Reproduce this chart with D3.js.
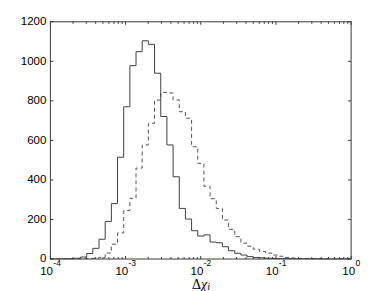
<!DOCTYPE html>
<html><head><meta charset="utf-8">
<script src="https://cdn.jsdelivr.net/npm/d3@7"></script>
<style>
html,body{margin:0;padding:0;background:#fff;}
svg{display:block;font-family:"Liberation Sans",Arial,Helvetica,sans-serif;}
</style></head>
<body>
<script>
// Bin lower edges (log10 of Δχ_i), plus the final upper edge
const binLog10Edges = [-4.009,-3.927,-3.845,-3.763,-3.681,-3.599,-3.517,-3.435,-3.353,-3.271,
  -3.189,-3.107,-3.025,-2.943,-2.861,-2.779,-2.697,-2.615,-2.532,-2.450,
  -2.368,-2.286,-2.204,-2.122,-2.040,-1.958,-1.876,-1.794,-1.712,-1.630,
  -1.548,-1.466,-1.384,-1.302,-1.220,-1.138,-1.056,-0.974,-0.892,-0.810,
  -0.728,-0.646,-0.564,-0.482,-0.400,-0.318,-0.236,-0.154,-0.072,0.010];
// Counts per bin (solid series)
const solidCounts = [0,0,1,2,4,10,28,54,100,190,280,515,770,978,1049,1104,1086,940,721,577,
  416,256,202,143,116,122,86,82,62,42,29,20,12,8,6,4,3,2,2,1,1,1,0,1,0,0,0,0,0];
// Counts per bin (dashed series)
const dashedCounts = [0,0,0,0,0,1,2,4,8,30,75,132,245,307,460,577,686,804,843,840,
  805,745,712,568,484,368,305,256,197,150,113,80,65,50,38,30,20,14,8,5,3,2,1,1,1,0,0,0,0];
const yTicks = [0,200,400,600,800,1000,1200];
const xTickExponents = [-4,-3,-2,-1,0];
const xDomain = [1e-4, 1];
const yDomain = [0, 1200];

const W = 388, H = 291;
const m = {left: 50.4, right: 388 - 351.1, top: 21.8, bottom: 291 - 259};
const svg = d3.select("body").append("svg").attr("width", W).attr("height", H);

const x = d3.scaleLog().domain(xDomain).range([m.left, W - m.right]);
const y = d3.scaleLinear().domain(yDomain).range([H - m.bottom, m.top]);

svg.append("defs").append("clipPath").attr("id","clip")
  .append("rect").attr("x", m.left).attr("y", m.top - 1)
  .attr("width", x.range()[1] - m.left).attr("height", y(0) - m.top + 1.5);

const axisColor = "#3a3a3a";
const g = svg.append("g");

// histogram outlines
function pts(counts){
  const p = counts.map((c,i)=>[Math.pow(10, binLog10Edges[i]), c]);
  p.push([Math.pow(10, binLog10Edges[counts.length]), 0]);
  return p;
}
const line = d3.line().x(d=>x(d[0])).y(d=>y(d[1])).curve(d3.curveStepAfter);
const plot = g.append("g").attr("clip-path","url(#clip)");
plot.append("path").datum(pts(dashedCounts)).attr("d", line)
  .attr("fill","none").attr("stroke","#555").attr("stroke-width",1)
  .attr("stroke-dasharray","4,3");
plot.append("path").datum(pts(solidCounts)).attr("d", line)
  .attr("fill","none").attr("stroke","#404040").attr("stroke-width",1);

// box
g.append("rect").attr("x", m.left).attr("y", m.top)
  .attr("width", x.range()[1] - m.left).attr("height", y(0) - m.top)
  .attr("fill","none").attr("stroke", axisColor).attr("stroke-width",1);

// x ticks (major + minor) bottom and top, inward
const majors = xTickExponents.map(e=>Math.pow(10,e));
const minors = x.ticks().filter(v => !majors.some(mj => Math.abs(mj - v) / v < 1e-9));
const tickG = g.append("g").attr("stroke", axisColor).attr("stroke-width",1);
majors.forEach(v=>{
  tickG.append("line").attr("x1",x(v)).attr("x2",x(v)).attr("y1",y(0)).attr("y2",y(0)-3);
  tickG.append("line").attr("x1",x(v)).attr("x2",x(v)).attr("y1",m.top).attr("y2",m.top+3);
});
minors.forEach(v=>{
  tickG.append("line").attr("x1",x(v)).attr("x2",x(v)).attr("y1",y(0)).attr("y2",y(0)-2);
  tickG.append("line").attr("x1",x(v)).attr("x2",x(v)).attr("y1",m.top).attr("y2",m.top+2);
});
// y ticks left and right
yTicks.forEach(v=>{
  tickG.append("line").attr("x1",m.left).attr("x2",m.left+3).attr("y1",y(v)).attr("y2",y(v));
  tickG.append("line").attr("x1",x.range()[1]).attr("x2",x.range()[1]-3).attr("y1",y(v)).attr("y2",y(v));
});

// y labels
g.append("g").selectAll("text").data(yTicks).join("text")
  .attr("x", m.left - 4).attr("y", d=>y(d)).attr("dy","0.3em")
  .attr("text-anchor","end").attr("font-size","11.5px").attr("fill","#000")
  .text(d=>d);

// x labels 10^e (base and exponent as separate texts, centred together on the tick)
const xlG = g.append("g");
xTickExponents.forEach(e=>{
  const cx = x(Math.pow(10,e));
  const base = xlG.append("text").attr("y", 275.3).attr("font-size","11.5px").attr("fill","#000").text("10");
  const sup = xlG.append("text").attr("y", 265.5).attr("font-size","8.5px").attr("fill","#000")
    .text(e===0 ? "0" : "-" + Math.abs(e));
  const wb = base.node().getComputedTextLength();
  const ws = sup.node().getComputedTextLength();
  const left = cx - (wb + ws) / 2;
  base.attr("x", left);
  sup.attr("x", left + wb + 0.3);
});

// x axis label Δχ_i
const lab = g.append("text").attr("x", 201).attr("y", 288.5)
  .attr("text-anchor","middle").attr("font-size","14px").attr("fill","#000")
  .attr("font-family","'Liberation Serif','DejaVu Serif',serif");
lab.append("tspan").text("\u0394");
lab.append("tspan").attr("font-style","italic").text("\u03C7");
lab.append("tspan").attr("font-style","italic").attr("font-size","10px").attr("dy",1.5).text("i");
</script>
</body></html>
